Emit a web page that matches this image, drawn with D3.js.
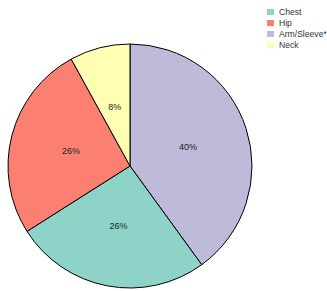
<!DOCTYPE html>
<html>
<head>
<meta charset="utf-8">
<script src="https://cdn.jsdelivr.net/npm/d3@7"></script>
<style>
  body { margin: 0; background: #fff; }
  svg { display: block; font-family: "Liberation Sans", Arial, sans-serif; }
</style>
</head>
<body>
<svg width="327" height="291"></svg>
<script>
// slice order as drawn, clockwise from 12 o'clock
const sliceNames = ["Arm/Sleeve*", "Chest", "Hip", "Neck"];
const sliceValues = [40, 26, 26, 8];
// legend order
const legendNames = ["Chest", "Hip", "Arm/Sleeve*", "Neck"];
const colors = {
  "Chest": "#8dd3c7",
  "Hip": "#fb8072",
  "Arm/Sleeve*": "#bebada",
  "Neck": "#ffffb3"
};

const svg = d3.select("svg");
const cx = 130, cy = 166, r = 122;

const pie = d3.pie().sort(null).value(d => d.value);
const data = sliceNames.map((name, i) => ({ name, value: sliceValues[i] }));
const arcs = pie(data);

const arc = d3.arc().innerRadius(0).outerRadius(r);
const labelArc = d3.arc().innerRadius(r * 0.5).outerRadius(r * 0.5);

const g = svg.append("g").attr("transform", `translate(${cx},${cy})`);

g.selectAll("path")
  .data(arcs)
  .enter()
  .append("path")
  .attr("d", arc)
  .attr("fill", d => colors[d.data.name])
  .attr("stroke", "#000")
  .attr("stroke-width", 1);

const total = d3.sum(sliceValues);
g.selectAll("text")
  .data(arcs)
  .enter()
  .append("text")
  .attr("transform", d => `translate(${labelArc.centroid(d)})`)
  .attr("text-anchor", "middle")
  .attr("dy", "0.35em")
  .attr("font-size", 9)
  .attr("fill", "#222")
  .text(d => Math.round(d.data.value / total * 100) + "%");

// legend
const legend = svg.append("g").attr("transform", "translate(267,9)");
const row = legend.selectAll("g")
  .data(legendNames)
  .enter()
  .append("g")
  .attr("transform", (d, i) => `translate(0,${i * 11})`);

row.append("rect")
  .attr("width", 7)
  .attr("height", 6)
  .attr("fill", d => colors[d]);

row.append("text")
  .attr("x", 12)
  .attr("y", 3)
  .attr("dy", "0.35em")
  .attr("font-size", 8.6)
  .attr("fill", "#333")
  .text(d => d);
</script>
</body>
</html>
